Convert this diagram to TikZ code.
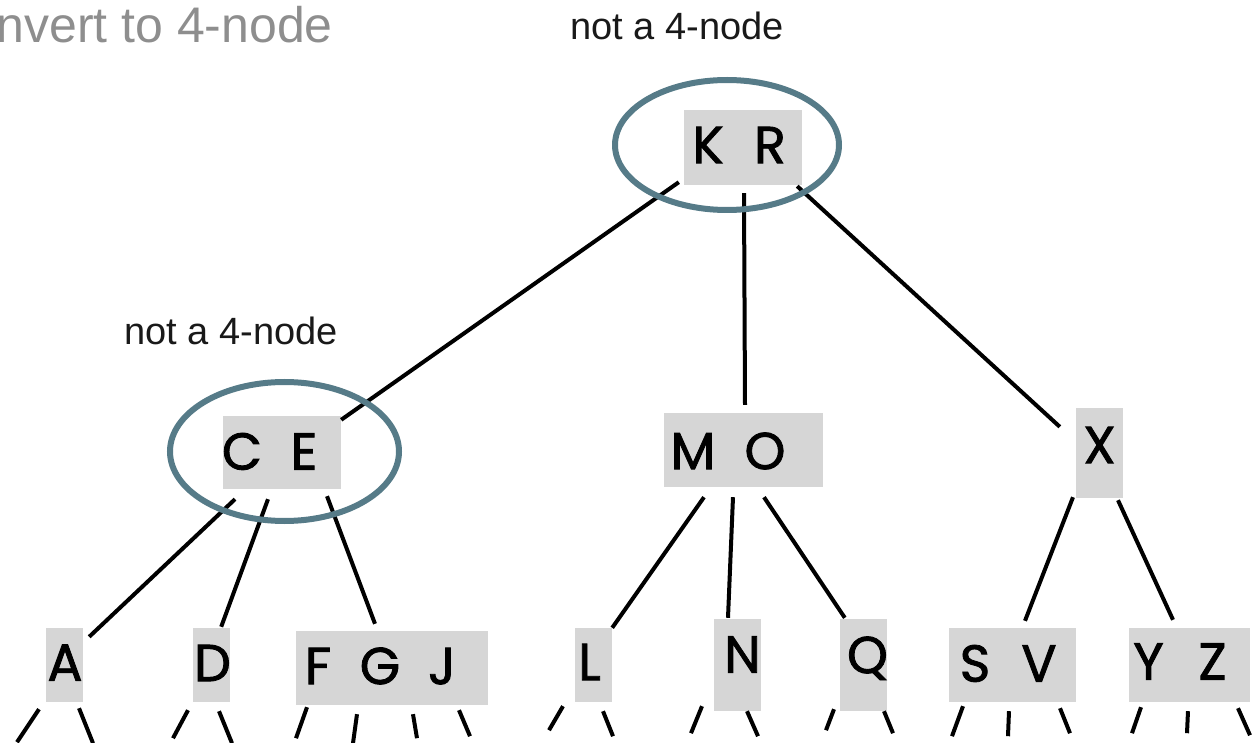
\documentclass[tikz,border=0pt]{standalone}
\usepackage{fontspec}
\setmainfont{Liberation Sans}
\newfontfamily\letterfont{Poppins}[FakeBold=1.6]
\usetikzlibrary{shapes.geometric}
\definecolor{boxgray}{RGB}{214,214,214}
\definecolor{ringcol}{RGB}{86,123,136}
\definecolor{titlegray}{RGB}{142,142,142}
\newcommand\lc[1]{\makebox[62pt]{#1}}
% #1 = twice the horizontal shift, #2 = raise, #3 = letters
\newcommand\keys[3]{\raisebox{#2}[\fontcharht\font`X][0pt]{\makebox[0pt]{\hspace*{#1}#3}}}
\begin{document}
\begin{tikzpicture}[x=1pt,y=-1pt,
  keybox/.style={fill=boxgray, inner sep=0pt, font=\letterfont\fontsize{52}{60}\selectfont},
  link/.style={line width=4pt},
  ring/.style={ellipse, draw=ringcol, line width=6pt, inner sep=0pt},
  note/.style={font=\fontsize{38}{44}\selectfont, inner sep=0pt, anchor=base, text=black!90},
  title/.style={font=\fontsize{50}{60}\selectfont, inner sep=0pt, anchor=base east, text=titlegray}]
\useasboundingbox (0,0) rectangle (1254,743);

% boxes
\node[keybox, minimum width=118pt, minimum height=75pt] (KR) at (743,147.5) {\keys{-8pt}{2.5pt}{\lc{K}\lc{R}}};
\node[keybox, minimum width=118pt, minimum height=73pt] (CE) at (282,452.5) {\keys{-18pt}{1pt}{\lc{C}\lc{E}}};
\node[keybox, minimum width=159pt, minimum height=74pt] (MO) at (743.5,450) {\keys{-29pt}{-1pt}{\makebox[72pt]{M}\makebox[72pt]{O}}};
\node[keybox, minimum width=47pt, minimum height=90pt] (X) at (1099.5,453) {\keys{0pt}{8pt}{X}};
\node[keybox, minimum width=37pt, minimum height=74pt] (A) at (64.5,665) {\keys{1pt}{2.5pt}{A}};
\node[keybox, minimum width=37pt, minimum height=74pt] (D) at (211.5,665) {\keys{2pt}{2pt}{D}};
\node[keybox, minimum width=192pt, minimum height=74pt] (FGJ) at (392,668) {\keys{-24pt}{2pt}{\lc{F}\lc{G}\lc{J}}};
\node[keybox, minimum width=37pt, minimum height=74pt] (L) at (593.5,665) {\keys{-8pt}{3pt}{L}};
\node[keybox, minimum width=47pt, minimum height=92pt] (N) at (737.5,665) {\keys{10pt}{10.5pt}{N}};
\node[keybox, minimum width=47pt, minimum height=92pt] (Q) at (863.5,665) {\keys{8pt}{10pt}{Q}};
\node[keybox, minimum width=127pt, minimum height=74pt] (SV) at (1012.5,665) {\keys{-11pt}{1.5pt}{\makebox[64pt]{S}\makebox[64pt]{V}}};
\node[keybox, minimum width=121pt, minimum height=74pt] (YZ) at (1189.5,665) {\keys{-18pt}{3.5pt}{\makebox[64pt]{Y}\makebox[64pt]{Z}}};

% tree links
\draw[link] ([shift={(-5,-3)}]KR.south west) -- ([shift={(0,4)}]CE.north east);
\draw[link] ([shift={(1,8)}]KR.south) -- ([shift={(1.5,-8)}]MO.north);
\draw[link] ([shift={(-5,1)}]KR.south east) -- ([shift={(-16,19)}]X.north west);
\draw[link] ([shift={(-47,10)}]CE.south) -- ([shift={(6,9)}]A.north east);
\draw[link] ([shift={(-14,10)}]CE.south) -- ([shift={(-9,-1)}]D.north east);
\draw[link] ([shift={(45,7)}]CE.south) -- ([shift={(-17,-7)}]FGJ.north);
\draw[link] ([shift={(-39.5,10)}]MO.south) -- (L.north east);
\draw[link] ([shift={(-10.5,10)}]MO.south) -- ([shift={(-9.5,-1)}]N.north);
\draw[link] ([shift={(20.5,10)}]MO.south) -- ([shift={(5,-1)}]Q.north west);
\draw[link] ([shift={(-26.5,-1)}]X.south) -- ([shift={(12.5,-7)}]SV.north);
\draw[link] ([shift={(18.5,2)}]X.south) -- ([shift={(-16.5,-8)}]YZ.north);

% leaf stubs
\draw[link] ([shift={(-25.5,7)}]A.south) -- ++(-22,33);
\draw[link] ([shift={(14.5,6)}]A.south) -- ++(14,35);
\draw[link] ([shift={(-23.5,8)}]D.south) -- ++(-15,28);
\draw[link] ([shift={(7.5,9)}]D.south) -- ++(13,32);
\draw[link] ([shift={(-85,2)}]FGJ.south) -- ++(-11,31);
\draw[link] ([shift={(-35,9)}]FGJ.south) -- ++(-4,29);
\draw[link] ([shift={(21,9)}]FGJ.south) -- ++(4,24);
\draw[link] ([shift={(67,5)}]FGJ.south) -- ++(11,26);
\draw[link] ([shift={(-30.5,4)}]L.south) -- ++(-14,24);
\draw[link] ([shift={(9.5,9)}]L.south) -- ++(10,25);
\draw[link] ([shift={(-35.5,-5)}]N.south) -- ++(-11,27);
\draw[link] ([shift={(9.5,0)}]N.south) -- ++(11,25);
\draw[link] ([shift={(-29.5,-2)}]Q.south) -- ++(-8,21);
\draw[link] ([shift={(20.5,0)}]Q.south) -- ++(9,22);
\draw[link] ([shift={(-49.5,4)}]SV.south) -- ++(-11,30);
\draw[link] ([shift={(-3.5,9)}]SV.south) -- ++(-1,25);
\draw[link] ([shift={(47.5,6)}]SV.south) -- ++(10,25);
\draw[link] ([shift={(-48.5,5)}]YZ.south) -- ++(-9,26);
\draw[link] ([shift={(-1.5,9)}]YZ.south) -- ++(-1,22);
\draw[link] ([shift={(48.5,6)}]YZ.south) -- ++(12,27);

% rings
\node[ring, minimum width=224pt, minimum height=130pt] (KRring) at (727,145) {};
\node[ring, minimum width=229pt, minimum height=139pt] (CEring) at (284.5,451.5) {};

% labels
\node[note] (notKR) at (677,40) {not a 4-node};
\node[note] (notCE) at (231,345) {not a 4-node};
\node[title] (title) at (333,43) {Convert to 4-node};
\end{tikzpicture}
\end{document}
